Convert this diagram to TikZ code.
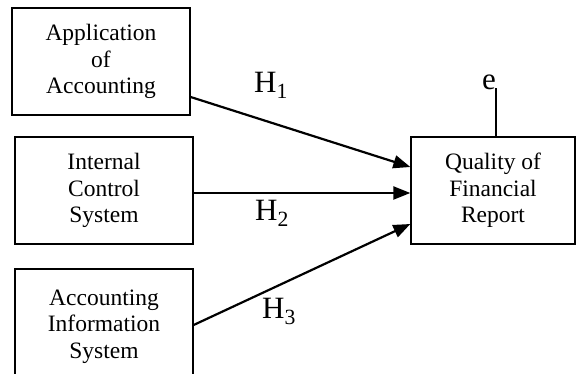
\documentclass[tikz,border=0pt]{standalone}
\usepackage{fontspec}
\setmainfont{Liberation Serif}
\usetikzlibrary{arrows.meta,positioning}
\tikzset{>={Triangle[length=17pt,width=13pt]}}

\begin{document}
\begin{tikzpicture}[x=1pt,y=-1pt,
  box/.style={draw,line width=1.3pt,minimum width=178pt,minimum height=107pt,align=center,inner sep=0pt,font=\fontsize{23.5}{26.7}\selectfont},
  hyp/.style={anchor=base west,inner sep=0pt,font=\fontsize{31}{34}\selectfont}]
\useasboundingbox (0,0) rectangle (576,374);
\node[box] (app) at (101,61.5) {Application\\of\\Accounting};
\node[box] (ics) at (104,190.5) {Internal\\Control\\System};
\node[box,minimum height=115pt] (ais) at (104,326.5) {Accounting\\Information\\System};
\node[box,minimum width=164pt] (qfr) at (493,190.5) {Quality of\\Financial\\Report};
\node[hyp,anchor=base east] (e) at (496,90) {e};
\draw[line width=1.3pt] (qfr.north -| e.east) -- ([yshift=3pt]e.south east);
\draw[->,line width=2.2pt] ([yshift=-35.5pt]app.east) -- ([yshift=23.5pt]qfr.west);
\draw[->,line width=2.2pt] ([yshift=-2.5pt]ics.east) -- ([yshift=-2.5pt]qfr.west);
\draw[->,line width=2.2pt] ([yshift=1.5pt]ais.east) -- ([yshift=-33.5pt]qfr.west);
\node[hyp] (h1) at (254,93) {H\textsubscript{1}};
\node[hyp] (h2) at (255,221) {H\textsubscript{2}};
\node[hyp] (h3) at (262,319) {H\textsubscript{3}};
\end{tikzpicture}
\end{document}
